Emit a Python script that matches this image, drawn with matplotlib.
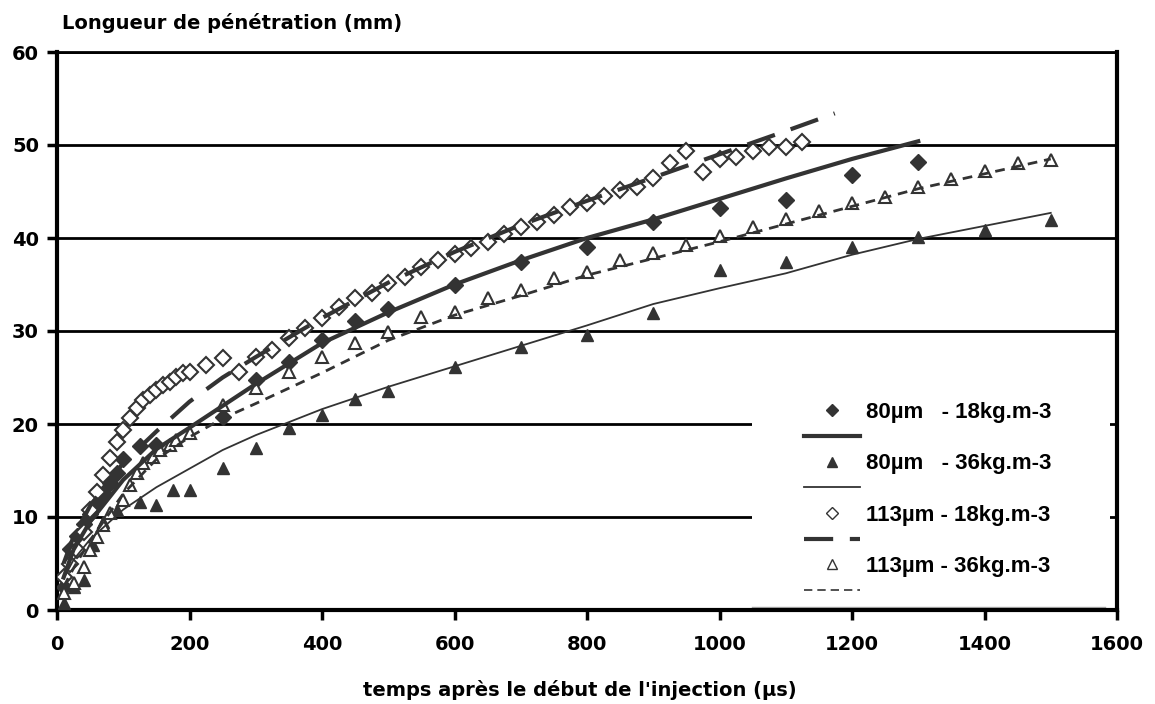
import matplotlib.pyplot as plt
from matplotlib.lines import Line2D
from matplotlib.patches import Rectangle

plt.rcParams['font.family'] = ['DejaVu Sans']

# measured points
t_80_18 = [10, 20, 30, 40, 50, 60, 70, 80, 90, 100, 125, 150, 250, 300, 350, 400,
           450, 500, 600, 700, 800, 900, 1000, 1100, 1200, 1300]
y_80_18 = [2.5, 6.6, 8.0, 9.3, 10.3, 11.5, 12.6, 13.7, 14.7, 16.2, 17.6, 17.7, 20.7,
           24.7, 26.7, 29.0, 31.1, 32.4, 34.9, 37.4, 39.0, 41.7, 43.2, 44.1, 46.8, 48.2]

t_80_36 = [10, 25, 40, 55, 70, 90, 125, 150, 175, 200, 250, 300, 350, 400, 450, 500,
           600, 700, 800, 900, 1000, 1100, 1200, 1300, 1400, 1500]
y_80_36 = [0.8, 2.5, 3.2, 7.0, 9.5, 10.7, 11.6, 11.3, 12.9, 12.9, 15.3, 17.4, 19.6,
           21.0, 22.7, 23.5, 26.1, 28.3, 29.6, 31.9, 36.6, 37.4, 39.0, 40.1, 40.9, 41.9]

t_113_18 = [10, 20, 30, 40, 50, 60, 70, 80, 90, 100, 110, 120, 130, 140, 150, 160,
            170, 180, 190, 200, 225, 250, 275, 300, 325, 350, 375, 400, 425, 450,
            475, 500, 525, 550, 575, 600, 625, 650, 675, 700, 725, 750, 775, 800,
            825, 850, 875, 900, 925, 950, 975, 1000, 1025, 1050, 1075, 1100, 1125]
y_113_18 = [3.6, 5.0, 6.4, 8.4, 10.7, 12.7, 14.5, 16.3, 18.1, 19.4, 20.6, 21.7, 22.6,
            23.1, 23.7, 24.2, 24.5, 25.1, 25.5, 25.6, 26.3, 27.1, 25.6, 27.2, 28.0,
            29.2, 30.3, 31.4, 32.6, 33.5, 34.1, 35.2, 35.8, 36.9, 37.6, 38.3, 38.9,
            39.6, 40.4, 41.2, 41.7, 42.5, 43.3, 43.8, 44.5, 45.2, 45.5, 46.4, 48.1,
            49.4, 47.1, 48.5, 48.7, 49.4, 49.8, 49.8, 50.3]

t_113_36 = [10, 25, 40, 50, 60, 70, 80, 100, 110, 120, 130, 145, 155, 170, 180, 200,
            250, 300, 350, 400, 450, 500, 550, 600, 650, 700, 750, 800, 850, 900,
            950, 1000, 1050, 1100, 1150, 1200, 1250, 1300, 1350, 1400, 1450, 1500]
y_113_36 = [1.8, 2.9, 4.6, 6.4, 7.8, 9.1, 10.4, 11.8, 13.4, 14.7, 15.8, 16.5, 17.2,
            17.7, 18.3, 19.0, 22.0, 23.9, 25.6, 27.2, 28.7, 29.9, 31.5, 32.0, 33.5,
            34.4, 35.7, 36.3, 37.6, 38.4, 39.2, 40.2, 41.2, 42.0, 42.9, 43.8, 44.4,
            45.5, 46.3, 47.2, 48.1, 48.4]

# trend lines
ft_80_18 = [10, 25, 50, 100, 150, 200, 300, 400, 500, 600, 700, 800, 900, 1000,
            1100, 1200, 1300]
fy_80_18 = [3.5, 6.5, 9.5, 14.0, 17.3, 19.6, 24.3, 28.7, 32.0, 35.0, 37.6, 40.0,
            42.0, 44.2, 46.4, 48.5, 50.4]

ft_80_36 = [10, 25, 50, 100, 150, 200, 250, 300, 400, 500, 600, 700, 800, 900,
            1000, 1100, 1200, 1300, 1400, 1500]
fy_80_36 = [3.4, 5.4, 7.6, 10.8, 13.2, 15.2, 17.2, 18.8, 21.6, 24.0, 26.2, 28.4,
            30.6, 32.9, 34.6, 36.2, 38.2, 39.9, 41.3, 42.7]

ft_113_18 = [10, 25, 50, 100, 150, 200, 250, 300, 400, 500, 600, 700, 800, 900,
             1000, 1100, 1174]
fy_113_18 = [5.0, 7.9, 11.2, 15.8, 19.2, 22.4, 25.0, 27.2, 31.4, 35.2, 38.5, 41.4,
             44.0, 46.5, 49.0, 51.5, 53.4]

ft_113_36 = [10, 25, 50, 100, 150, 200, 250, 300, 400, 500, 600, 700, 800, 900,
             1000, 1100, 1200, 1300, 1400, 1500]
fy_113_36 = [2.5, 4.5, 7.5, 12.5, 16.2, 18.6, 20.6, 22.2, 25.5, 29.0, 31.7, 33.8,
             36.0, 37.8, 39.6, 41.5, 43.4, 45.3, 46.9, 48.5]

labels = ['80µm   - 18kg.m-3', '80µm   - 36kg.m-3',
          '113µm - 18kg.m-3', '113µm - 36kg.m-3']

dark = '#333333'

fig = plt.figure(figsize=(11.55, 7.04), dpi=100)
ax = fig.add_axes([57 / 1155, 1 - 610 / 704, 1060 / 1155, 558 / 704])

ax.set_xlim(0, 1600)
ax.set_ylim(0, 60)
ax.set_xticks(range(0, 1601, 200))
ax.set_yticks(range(0, 61, 10))
ax.yaxis.grid(True, color='black', lw=2)
ax.set_axisbelow(True)

for s in ['left', 'bottom', 'right']:
    ax.spines[s].set_linewidth(3)
ax.spines['top'].set_linewidth(2)

ax.tick_params(axis='x', direction='out', length=7, width=2.5, pad=11, labelsize=14)
ax.tick_params(axis='y', direction='out', length=7, width=2.5, pad=6, labelsize=14)
for lab in ax.get_xticklabels() + ax.get_yticklabels():
    lab.set_fontweight('bold')

# points
ax.plot(t_80_18, y_80_18, 'D', ms=8, color=dark, zorder=3)
ax.plot(t_80_36, y_80_36, '^', ms=9, color=dark, zorder=3)
ax.plot(t_113_18, y_113_18, 'D', ms=8, mfc='white', mec=dark, mew=1.5, zorder=3)
ax.plot(t_113_36, y_113_36, '^', ms=9, mfc='white', mec=dark, mew=1.5, zorder=3)

# trend lines
ax.plot(ft_80_18, fy_80_18, '-', color=dark, lw=3, zorder=4)
ax.plot(ft_80_36, fy_80_36, '-', color=dark, lw=1.3, zorder=4)
ax.plot(ft_113_18, fy_113_18, color=dark, lw=3, dashes=(7, 4), zorder=4)
ax.plot(ft_113_36, fy_113_36, color=dark, lw=2, dashes=(3.5, 2.5), zorder=4)

# legend area
ax.add_patch(Rectangle((0.656, 0.005), 0.337, 0.38, transform=ax.transAxes,
                       facecolor='white', edgecolor='none', zorder=1))
ax.plot([0.656, 0.989], [0.005, 0.005], transform=ax.transAxes,
        color='#aaaaaa', lw=1, zorder=1.5)

handles = [
    Line2D([], [], ls='none', marker='D', ms=6, color=dark),
    Line2D([], [], color=dark, lw=3),
    Line2D([], [], ls='none', marker='^', ms=7, color=dark),
    Line2D([], [], color=dark, lw=1.3),
    Line2D([], [], ls='none', marker='D', ms=6, mfc='white', mec=dark, mew=1),
    Line2D([], [], color=dark, lw=3, dashes=(7, 4)),
    Line2D([], [], ls='none', marker='^', ms=7, mfc='white', mec=dark, mew=1),
    Line2D([], [], color=dark, lw=1.2, dashes=(5, 3)),
]
leg_labels = [labels[0], '', labels[1], '', labels[2], '', labels[3], '']
leg = ax.legend(handles, leg_labels, loc='upper left',
                bbox_to_anchor=((804 - 57) / 1060, (610 - 402) / 558),
                frameon=False, borderpad=0, borderaxespad=0,
                handlelength=2.5, handletextpad=0.3, labelspacing=0.21,
                prop={'size': 16, 'weight': 'bold', 'family': 'Liberation Sans'})
leg.set_zorder(5)

fig.text(62 / 1155, 1 - 23 / 704, 'Longueur de pénétration (mm)',
         fontsize=14, fontweight='bold', ha='left', va='center')
fig.text(580 / 1155, 1 - 690 / 704, "temps après le début de l'injection (µs)",
         fontsize=14, fontweight='bold', ha='center', va='center')

fig.savefig('out.png', dpi=100)
